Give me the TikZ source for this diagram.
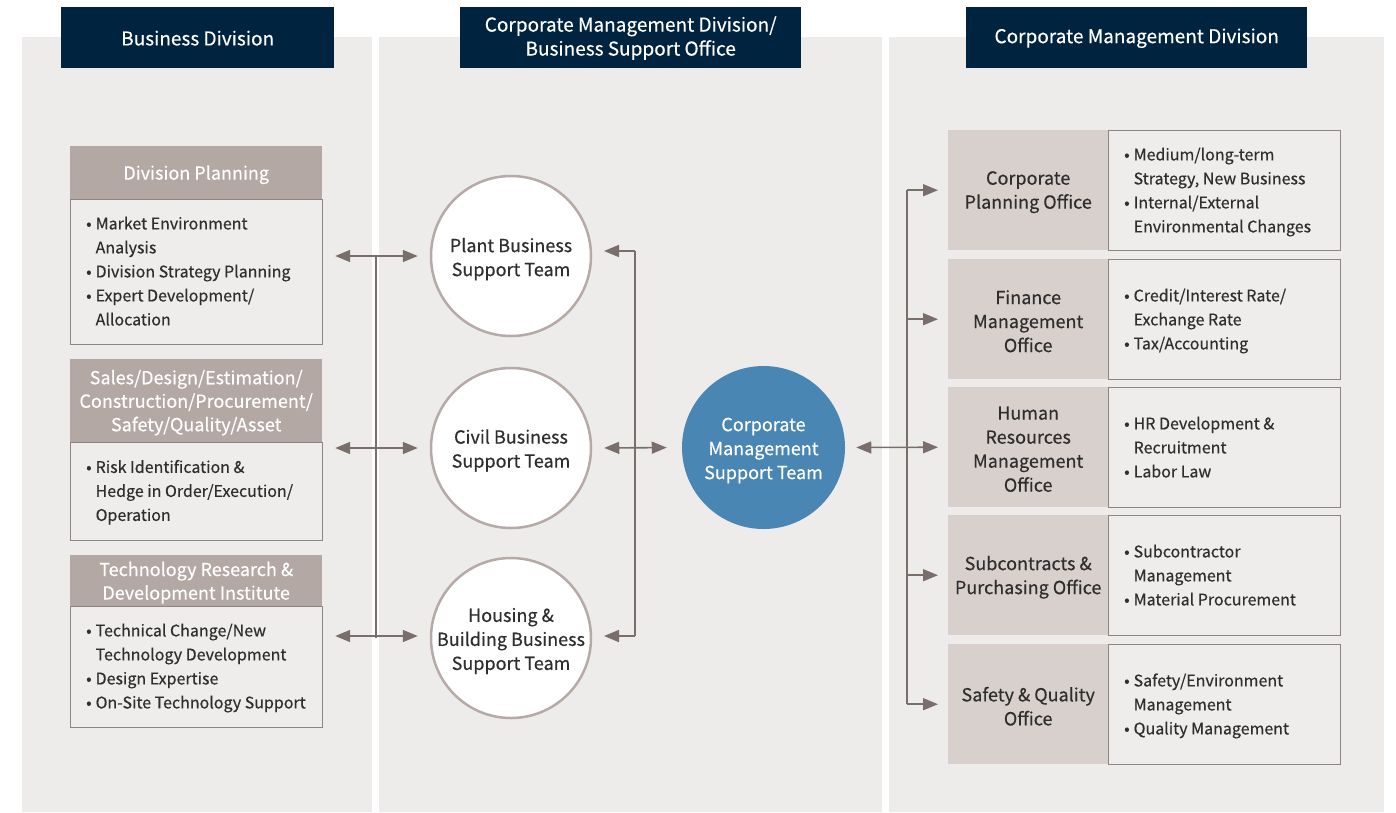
\documentclass[tikz,border=0pt]{standalone}
\usepackage{fontspec}
\setmainfont{Noto Sans CJK KR}[FakeBold=0.35]
\usetikzlibrary{arrows.meta,calc}
\definecolor{navy}{HTML}{00243F}
\definecolor{panelbg}{HTML}{EEECEA}
\definecolor{taupe}{HTML}{B3A8A4}
\definecolor{labfill}{HTML}{D8D0CD}
\definecolor{bodyfill}{HTML}{EFEDEB}
\definecolor{bord}{HTML}{8E8482}
\definecolor{arr}{HTML}{7A6E6D}
\definecolor{txt}{HTML}{2E2E2E}
\definecolor{corpblue}{HTML}{4A86B4}
\definecolor{circbord}{HTML}{B5AAA7}
\newcommand{\bl}{\textbullet}
\begin{document}
\begin{tikzpicture}[x=1pt,y=-1pt,
  panel/.style={fill=panelbg,draw=none},
  tophead/.style={fill=navy,draw=none,anchor=north west,inner sep=0pt},
  topheadtext/.style={text=white,inner sep=0pt,align=center,font=\fontsize{19}{24}\selectfont},
  lefthead/.style={fill=taupe,draw=none,anchor=north west,inner sep=0pt,minimum width=252pt},
  leftheadtext/.style={text=white,inner sep=0pt,align=center,font=\fontsize{18}{23.5}\selectfont},
  bodybox/.style={fill=bodyfill,draw=bord,line width=1.2pt,anchor=north west,inner sep=0pt},
  bodytext/.style={anchor=west,inner sep=0pt,text=txt,font=\fontsize{16}{24}\selectfont},
  labbox/.style={fill=labfill,draw=none,anchor=north west,inner sep=0pt,minimum width=160pt,minimum height=120pt},
  labtext/.style={inner sep=0pt,align=center,text=txt,font=\fontsize{18}{24}\selectfont},
  rbody/.style={fill=bodyfill,draw=bord,line width=1.2pt,anchor=north west,inner sep=0pt,minimum width=232pt,minimum height=120pt},
  team/.style={circle,fill=white,draw=circbord,line width=2.5pt,minimum size=160pt,inner sep=0pt},
  teamtext/.style={inner sep=0pt,align=center,text=txt,font=\fontsize{18}{24}\selectfont},
  conn/.style={draw=arr,line width=1.6pt},
  arrow/.style={conn,-{Triangle[length=15pt,width=12pt]}},
  darrow/.style={conn,{Triangle[length=15pt,width=12pt]}-{Triangle[length=15pt,width=12pt]}}
]
\useasboundingbox (0,0) rectangle (1396,812);
% panels
\fill[panel] (22,37) rectangle (372,812);
\fill[panel] (379,37) rectangle (882,812);
\fill[panel] (889,37) rectangle (1384,812);
% top headers
\node[tophead,minimum width=273pt,minimum height=61pt] (h1) at (61,7) {};
\node[topheadtext] (h1t) at ($(h1.center)+(0,0.5)$) {Business Division};
\node[tophead,minimum width=341pt,minimum height=61pt] (h2) at (460,7) {};
\node[topheadtext] (h2t) at ($(h2.center)+(0,0.5)$) {Corporate Management Division/\\Business Support Office};
\node[tophead,minimum width=341pt,minimum height=61pt] (h3) at (966,7) {};
\node[topheadtext] (h3t) at ($(h3.center)+(0,0.5)$) {Corporate Management Division};
% left boxes
\node[lefthead,minimum height=53pt] (dph) at (70,146) {};
\node[leftheadtext] (dpht) at ($(dph.center)+(0,2)$) {Division Planning};
\node[bodybox,minimum width=252pt,minimum height=145pt] (dpb) at (70,199) {};
\node[bodytext] (dpt) at ($(dpb.west)+(16,0.5)$) {\begin{tabular}{@{}l@{\hspace{4pt}}l@{}}\bl & Market Environment\\ & Analysis\\ \bl & Division Strategy Planning\\ \bl & Expert Development/\\ & Allocation\end{tabular}};
\node[lefthead,minimum height=83pt] (sh) at (70,359) {};
\node[leftheadtext] (sht) at ($(sh.center)+(0,2)$) {Sales/Design/Estimation/\\Construction/Procurement/\\Safety/Quality/Asset};
\node[bodybox,minimum width=252pt,minimum height=98pt] (sb) at (70,442) {};
\node[bodytext] (st) at ($(sb.west)+(16,0.5)$) {\begin{tabular}{@{}l@{\hspace{4pt}}l@{}}\bl & Risk Identification \&\\ & Hedge in Order/Execution/\\ & Operation\end{tabular}};
\node[lefthead,minimum height=51pt] (th) at (70,555) {};
\node[leftheadtext] (tht) at ($(th.center)+(0,2)$) {Technology Research \&\\Development Institute};
\node[bodybox,minimum width=252pt,minimum height=121pt] (tb) at (70,606) {};
\node[bodytext] (tt) at ($(tb.west)+(16,0.5)$) {\begin{tabular}{@{}l@{\hspace{4pt}}l@{}}\bl & Technical Change/New\\ & Technology Development\\ \bl & Design Expertise\\ \bl & On-Site Technology Support\end{tabular}};
% circles
\node[team] (plant) at (511,256) {};
\node[teamtext] at ($(plant.center)+(0,3)$) {Plant Business\\Support Team};
\node[team] (civil) at (511,448) {};
\node[teamtext] at ($(civil.center)+(0,2.5)$) {Civil Business\\Support Team};
\node[team] (housing) at (511,638) {};
\node[teamtext] at ($(housing.center)+(0,3)$) {Housing \&\\Building Business\\Support Team};
\node[team,fill=corpblue,draw=none,minimum size=163pt] (corp) at (763.5,447.5) {};
\node[teamtext,text=white] at ($(corp.center)+(0,3)$) {Corporate\\Management\\Support Team};
% right rows
\node[labbox] (l1) at (948,130) {};
\node[labtext] at ($(l1.center)+(0,2)$) {Corporate\\Planning Office};
\node[rbody] (b1) at (1108,130) {};
\node[bodytext] at ($(b1.west)+(16,1)$) {\begin{tabular}{@{}l@{\hspace{4pt}}l@{}}\bl & Medium/long-term\\ & Strategy, New Business\\ \bl & Internal/External\\ & Environmental Changes\end{tabular}};
\node[labbox] (l2) at (948,259) {};
\node[labtext] at ($(l2.center)+(0,2)$) {Finance\\Management\\Office};
\node[rbody] (b2) at (1108,259) {};
\node[bodytext] at ($(b2.west)+(16,1)$) {\begin{tabular}{@{}l@{\hspace{4pt}}l@{}}\bl & Credit/Interest Rate/\\ & Exchange Rate\\ \bl & Tax/Accounting\end{tabular}};
\node[labbox] (l3) at (948,387) {};
\node[labtext] at ($(l3.center)+(0,2)$) {Human\\Resources\\Management\\Office};
\node[rbody] (b3) at (1108,387) {};
\node[bodytext] at ($(b3.west)+(16,1)$) {\begin{tabular}{@{}l@{\hspace{4pt}}l@{}}\bl & HR Development \&\\ & Recruitment\\ \bl & Labor Law\end{tabular}};
\node[labbox] (l4) at (948,515) {};
\node[labtext] at ($(l4.center)+(0,2)$) {Subcontracts \&\\Purchasing Office};
\node[rbody] (b4) at (1108,515) {};
\node[bodytext] at ($(b4.west)+(16,1)$) {\begin{tabular}{@{}l@{\hspace{4pt}}l@{}}\bl & Subcontractor\\ & Management\\ \bl & Material Procurement\end{tabular}};
\node[labbox] (l5) at (948,644) {};
\node[labtext] at ($(l5.center)+(0,2)$) {Safety \& Quality\\Office};
\node[rbody] (b5) at (1108,644) {};
\node[bodytext] at ($(b5.west)+(16,1)$) {\begin{tabular}{@{}l@{\hspace{4pt}}l@{}}\bl & Safety/Environment\\ & Management\\ \bl & Quality Management\end{tabular}};
% left connectors
\coordinate (vl) at (376,0);
\draw[conn] (vl |- plant) -- (vl |- housing);
\draw[darrow,shorten <=12pt,shorten >=12pt] (plant.west -| dpb.east) -- (plant.west);
\draw[darrow,shorten <=12pt,shorten >=12pt] (civil.west -| sb.east) -- (civil.west);
\draw[darrow,shorten <=12pt,shorten >=12pt] ($(housing.west -| tb.east)+(0,-2)$) -- ($(housing.west)+(0,-2)$);
% middle connectors
\coordinate (vm) at (635,0);
\coordinate (pt) at ($(plant.center)+(0,-5)$);
\coordinate (ht) at ($(housing.center)+(0,-2)$);
\draw[conn] (vm |- pt) -- (vm |- ht);
\draw[arrow] (vm |- pt) -- ($(pt)+(93,0)$);
\draw[arrow] (vm |- ht) -- ($(ht)+(93,0)$);
\draw[darrow,shorten <=12pt,shorten >=14pt] (civil.east) -- (corp.west);
% right connectors
\coordinate (vr) at (907,0);
\draw[conn] (vr |- l1.west) -- (vr |- l5.west);
\draw[darrow,shorten <=10pt,shorten >=10pt] (corp.east) -- (l3.west);
\foreach \n in {l1,l2,l4,l5}{
  \draw[arrow,shorten >=10pt] (vr |- \n.west) -- (\n.west);
}
\end{tikzpicture}
\end{document}
